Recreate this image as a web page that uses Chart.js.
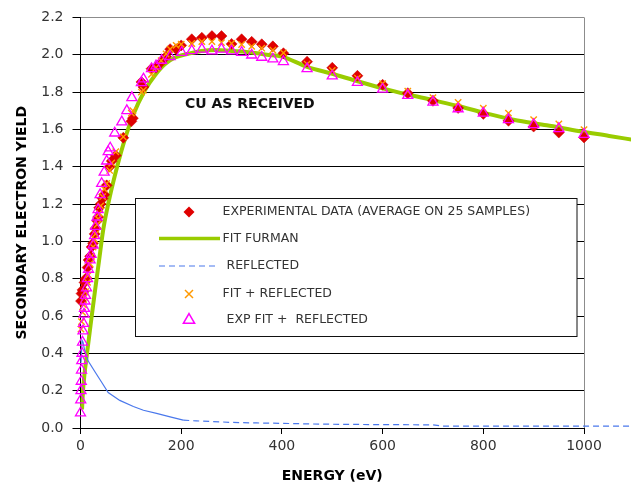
<!DOCTYPE html>
<html><head><meta charset="utf-8">
<script src="https://cdn.jsdelivr.net/npm/chart.js@4"></script>
<style>html,body{margin:0;padding:0;background:#fff;}#wrap{width:631px;height:492px;}</style>
</head><body><div id="wrap"><canvas id="c" width="631" height="492"></canvas></div>
<script>
// ---------- data ----------
const expEnergy = [1,2,4,6,8,10,14,16,19,22,25,28,30,33,35,37,40,44,47,52,58,62,70,85,101,104,121,125,141,150,160,170,178,190,200,221,241,261,280,300,320,340,360,382,403,450,500,550,600,650,700,750,800,850,900,950,1000];
const expYield  = [0.68,0.72,0.74,0.73,0.78,0.80,0.86,0.90,0.92,0.97,0.99,1.04,1.07,1.11,1.13,1.18,1.20,1.23,1.25,1.30,1.40,1.43,1.46,1.555,1.643,1.66,1.854,1.827,1.925,1.93,1.96,1.99,2.03,2.03,2.05,2.083,2.091,2.100,2.100,2.058,2.083,2.069,2.056,2.045,2.008,1.963,1.930,1.887,1.839,1.794,1.753,1.715,1.683,1.646,1.615,1.583,1.557];

const fitEnergy = [3,5,8,12,19,29,37,45,55,68,85,105,128,148,168,188,214,240,270,300,330,370,400,450,500,550,600,650,700,750,800,860,926,992,1050,1095];
const fitYield  = [0.10,0.20,0.29,0.38,0.53,0.74,0.90,1.06,1.20,1.35,1.52,1.68,1.81,1.89,1.95,1.985,2.005,2.02,2.025,2.02,2.015,2.0,1.99,1.935,1.898,1.858,1.82,1.787,1.757,1.725,1.69,1.652,1.622,1.59,1.565,1.545];

const reflEnergy = [1,3,5,8,15,29,42,55,78,105,125,151,178,204,230,260,300,350,400,450,500,600,700,720,800,900,1000,1095];
const reflYield  = [0.35,0.47,0.46,0.42,0.36,0.30,0.245,0.19,0.148,0.115,0.095,0.078,0.06,0.042,0.038,0.035,0.03,0.027,0.025,0.022,0.02,0.018,0.017,0.01,0.01,0.01,0.01,0.01];

const fitReflEnergy = [1,2,4,6,8,10,14,16,19,22,25,28,30,33,35,37,40,44,47,52,58,62,70,85,101,104,121,125,141,150,160,170,178,190,200,221,241,261,280,300,320,340,360,382,403,450,500,550,600,650,700,750,800,850,900,950,1000];
const fitReflYield  = [0.53,0.57,0.62,0.66,0.70,0.73,0.78,0.82,0.88,0.92,0.97,1.01,1.04,1.09,1.12,1.15,1.19,1.24,1.28,1.31,1.38,1.42,1.48,1.56,1.687,1.70,1.80,1.81,1.895,1.93,1.968,2.004,2.03,2.05,2.056,2.06,2.07,2.07,2.065,2.06,2.055,2.045,2.035,2.025,2.01,1.95,1.916,1.875,1.845,1.805,1.77,1.745,1.713,1.687,1.652,1.629,1.599];

const expFitEnergy = [0,0.5,1,1.5,2,2.5,3,4,5,6,7,8,9,10,12,14,16,19,21,25,28,30,33,35,39,42,47,52,55,59,68,82,92,102,121,125,141,150,161,178,201,221,241,261,280,300,320,340,360,382,403,450,500,550,600,650,700,750,800,850,900,950,1000];
const expFitYield  = [0.08,0.15,0.2,0.25,0.31,0.36,0.40,0.46,0.52,0.56,0.61,0.64,0.68,0.71,0.75,0.80,0.85,0.90,0.93,0.98,1.03,1.08,1.13,1.17,1.25,1.31,1.37,1.43,1.48,1.50,1.58,1.64,1.70,1.77,1.85,1.87,1.925,1.94,1.97,1.99,2.012,2.021,2.03,2.02,2.03,2.02,2.012,1.998,1.986,1.977,1.963,1.925,1.886,1.851,1.815,1.782,1.746,1.71,1.687,1.652,1.625,1.604,1.573];

const yTicks = [0.0,0.2,0.4,0.6,0.8,1.0,1.2,1.4,1.6,1.8,2.0,2.2];
const xTicks = [0,200,400,600,800,1000];

const legendLabels = ['EXPERIMENTAL DATA (AVERAGE ON 25 SAMPLES)','FIT FURMAN','REFLECTED','FIT + REFLECTED','EXP FIT +  REFLECTED'];
const chartLabel = 'CU AS RECEIVED';

// ---------- helpers ----------
const pts = (xs, ys) => xs.map((x, i) => ({x: x, y: ys[i]}));
const FONT = '"DejaVu Sans", sans-serif';
const C_RED = '#e00000', C_GREEN = '#99cc00', C_BLUE = '#4a78ec', C_ORANGE = '#ff9900', C_MAG = '#ff00ff';

const decor = {
  id: 'decor',
  beforeDraw(chart) {
    const ctx = chart.ctx;
    ctx.save(); ctx.fillStyle = '#fff'; ctx.fillRect(0, 0, chart.width, chart.height); ctx.restore();
  },
  beforeDatasetsDraw(chart) {
    const ctx = chart.ctx, a = chart.chartArea;
    const xr = Math.round(chart.scales.x.getPixelForValue(1000)) + 0.5;
    ctx.save();
    ctx.strokeStyle = '#8c8c8c'; ctx.lineWidth = 1;
    ctx.beginPath(); ctx.moveTo(xr, a.top); ctx.lineTo(xr, a.bottom); ctx.stroke();
    ctx.restore();
  },
  afterDatasetsDraw(chart) {
    const ctx = chart.ctx;
    ctx.save();
    ctx.fillStyle = '#111';
    ctx.font = 'bold 14px ' + FONT;
    ctx.textBaseline = 'middle'; ctx.textAlign = 'left';
    ctx.fillText(chartLabel, 185, 104);
    const L = 135.5, T = 198.5, W = 441.5, H = 138;
    ctx.fillStyle = '#fff'; ctx.fillRect(L, T, W, H);
    ctx.strokeStyle = '#111'; ctx.lineWidth = 1; ctx.strokeRect(L, T, W, H);
    const mx = 189, rows = [212, 238.5, 266, 294, 320];
    ctx.fillStyle = C_RED;
    ctx.beginPath(); ctx.moveTo(mx, rows[0]-5.5); ctx.lineTo(mx+5.5, rows[0]); ctx.lineTo(mx, rows[0]+5.5); ctx.lineTo(mx-5.5, rows[0]); ctx.closePath(); ctx.fill();
    ctx.strokeStyle = C_GREEN; ctx.lineWidth = 3.5;
    ctx.beginPath(); ctx.moveTo(159, rows[1]); ctx.lineTo(220, rows[1]); ctx.stroke();
    ctx.strokeStyle = C_BLUE; ctx.lineWidth = 1.2; ctx.setLineDash([6, 4]);
    ctx.beginPath(); ctx.moveTo(159, rows[2]); ctx.lineTo(216, rows[2]); ctx.stroke();
    ctx.setLineDash([]);
    ctx.strokeStyle = C_ORANGE; ctx.lineWidth = 1.5;
    const r = 4;
    ctx.beginPath(); ctx.moveTo(mx-r, rows[3]-r); ctx.lineTo(mx+r, rows[3]+r); ctx.moveTo(mx+r, rows[3]-r); ctx.lineTo(mx-r, rows[3]+r); ctx.stroke();
    ctx.strokeStyle = C_MAG; ctx.lineWidth = 1.5;
    const tr = 6.5;
    ctx.beginPath(); ctx.moveTo(mx, rows[4]-tr); ctx.lineTo(mx+0.866*tr, rows[4]+0.5*tr); ctx.lineTo(mx-0.866*tr, rows[4]+0.5*tr); ctx.closePath(); ctx.stroke();
    ctx.fillStyle = '#333'; ctx.font = '12.5px ' + FONT; ctx.textBaseline = 'middle';
    const tx = [222.5, 222.5, 226.5, 222.5, 226.5];
    legendLabels.forEach((t, i) => ctx.fillText(t, tx[i], rows[i]));
    ctx.restore();
  }
};

new Chart(document.getElementById('c'), {
  type: 'scatter',
  data: {
    datasets: [
      { label: legendLabels[4], data: pts(expFitEnergy, expFitYield), pointStyle: 'triangle', pointRadius: 5.8, pointBorderWidth: 1.3, pointBorderColor: C_MAG, pointBackgroundColor: 'rgba(0,0,0,0)', showLine: false },
      { label: legendLabels[3], data: pts(fitReflEnergy, fitReflYield), pointStyle: 'crossRot', pointRadius: 4.5, pointBorderWidth: 1.4, pointBorderColor: C_ORANGE, showLine: false },
      { label: legendLabels[0], data: pts(expEnergy, expYield), pointStyle: 'rectRot', pointRadius: 5.5, pointBorderWidth: 0.5, pointBorderColor: '#cc0000', pointBackgroundColor: C_RED, showLine: false },
      { label: legendLabels[2], data: pts(reflEnergy, reflYield), showLine: true, pointRadius: 0, borderColor: C_BLUE, borderWidth: 1.2, borderDash: [], clip: false,
        segment: { borderDash: c => (c.p0.parsed.x < 200 ? [] : [6, 4]) } },
      { label: legendLabels[1], data: pts(fitEnergy, fitYield), showLine: true, pointRadius: 0, borderColor: C_GREEN, borderWidth: 4, cubicInterpolationMode: 'monotone', clip: false }
    ]
  },
  options: {
    responsive: false, animation: false, devicePixelRatio: 1,
    layout: { padding: { top: 11, right: 47, bottom: 0, left: 0 } },
    plugins: { legend: { display: false }, tooltip: { enabled: false } },
    scales: {
      x: {
        type: 'linear', bounds: 'data',
        afterDataLimits: s => { s.min = 0; s.max = 1000; },
        afterBuildTicks: s => { s.ticks = xTicks.map(v => ({value: v})); },
        afterFit: s => { s.height = 64; },
        border: { display: true, color: '#000', width: 1 },
        grid: { drawOnChartArea: false, drawTicks: true, tickLength: 6, color: '#000' },
        ticks: { color: '#333', font: { family: FONT, size: 14 }, padding: 4, maxRotation: 0, callback: v => String(v) },
        title: { display: true, text: 'ENERGY (eV)', color: '#000', font: { family: FONT, size: 14, weight: 'bold' }, padding: { top: 0, bottom: 7 } }
      },
      y: {
        type: 'linear', bounds: 'data',
        afterDataLimits: s => { s.min = 0; s.max = 2.2; },
        afterBuildTicks: s => { s.ticks = yTicks.map(v => ({value: v})); },
        afterFit: s => { s.width = 80.5; },
        border: { display: true, color: '#000', width: 1 },
        grid: { drawOnChartArea: true, drawTicks: true, tickLength: 8, tickColor: '#000',
                color: c => (c.tick && Math.abs(c.tick.value - 2.2) < 1e-6 ? '#8c8c8c' : '#000') },
        ticks: { color: '#333', font: { family: FONT, size: 14 }, padding: 9, callback: v => Number(v).toFixed(1) },
        title: { display: true, text: 'SECONDARY ELECTRON YIELD', color: '#000', font: { family: FONT, size: 14, weight: 'bold' }, padding: { top: 14, bottom: 0 } }
      }
    }
  },
  plugins: [decor]
});
</script></body></html>
